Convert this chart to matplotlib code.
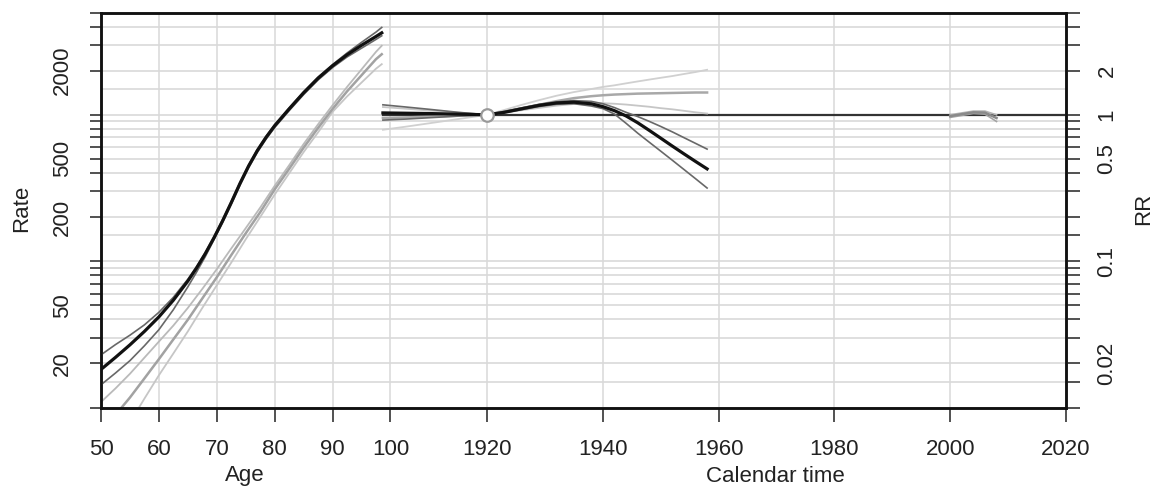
import numpy as np
import matplotlib
matplotlib.use("Agg")
import matplotlib.pyplot as plt
from matplotlib.ticker import NullFormatter

plt.rcParams['font.family'] = ['Liberation Sans', 'DejaVu Sans']

# ---------------- data ----------------
age = [50, 52.5, 55, 57.5, 60, 62.5, 65, 66.5, 68, 69.5, 71, 72.5, 74, 75.5,
       77, 78.5, 80, 82.5, 85, 87.5, 90, 92.5, 95, 97.5, 98.5]
rate_a = [18.2, 22.0, 26.8, 33.1, 41.6, 54.1, 73.1, 89.7, 112.2, 143.9,
          188.4, 251.2, 338.8, 446.7, 568.9, 699.8, 841.4, 1096, 1413, 1778,
          2163, 2570, 2985, 3428, 3631]
rate_a_hi = [22.9, 26.9, 31.2, 36.7, 44.7, 56.6, 75.2, 91.6, 114.3, 146.6,
             191.9, 255.9, 345.1, 455.0, 579.4, 712.9, 857.0, 1117, 1439,
             1811, 2203, 2642, 3126, 3673, 3954]
rate_a_lo = [14.3, 17.2, 20.9, 26.4, 34.0, 46.6, 66.7, 84.1, 107.2, 140.0,
             183.2, 244.3, 329.6, 434.5, 553.4, 680.8, 818.5, 1067, 1374,
             1730, 2104, 2483, 2851, 3273, 3467]

age_b = [50, 52.5, 55, 57.5, 60, 62.5, 65, 67.5, 70, 72.5, 75, 77.5, 80,
         82.5, 85, 87.5, 90, 92.5, 95, 97.5, 98.5]
rate_b = [6.8, 8.9, 11.7, 15.8, 21.4, 29.2, 39.8, 55.6, 77.6, 110, 155, 216,
          309, 427, 596, 813, 1096, 1445, 1862, 2399, 2594]
rate_b_hi = [10.9, 13.5, 17.0, 21.9, 28.2, 36.3, 47.9, 64.6, 88.1, 122, 168,
             232, 327, 452, 631, 861, 1161, 1549, 2042, 2692, 2965]
rate_b_lo = [3.9, 5.5, 7.9, 11.5, 16.6, 23.4, 33.1, 47.9, 68.4, 97.7, 141,
             200, 285, 398, 556, 759, 1047, 1334, 1660, 2065, 2218]

cohort = [1902, 1906, 1910, 1915, 1920, 1923, 1926, 1929, 1932, 1935, 1938,
          1940, 1942, 1944, 1946, 1948, 1950, 1952, 1954, 1956, 1958]
rr_a = [1.03, 1.025, 1.02, 1.01, 1.0, 1.04, 1.10, 1.16, 1.205, 1.22, 1.189,
        1.137, 1.067, 0.982, 0.883, 0.783, 0.692, 0.611, 0.541, 0.48, 0.427]
rr_a_hi = [1.17, 1.13, 1.09, 1.04, 1.0, 1.055, 1.115, 1.18, 1.225, 1.25,
           1.235, 1.19, 1.12, 1.04, 0.973, 0.902, 0.832, 0.764, 0.698,
           0.638, 0.583]
rr_a_lo = [0.92, 0.935, 0.955, 0.98, 1.0, 1.035, 1.085, 1.14, 1.18, 1.19,
           1.148, 1.102, 1.012, 0.875, 0.75, 0.65, 0.564, 0.489, 0.423,
           0.366, 0.316]
rr_b = [0.95, 0.96, 0.97, 0.985, 1.0, 1.05, 1.11, 1.17, 1.24, 1.30, 1.34,
        1.36, 1.375, 1.385, 1.395, 1.40, 1.405, 1.41, 1.415, 1.42, 1.42]
rr_b_hi = [0.79, 0.83, 0.875, 0.935, 1.0, 1.08, 1.17, 1.26, 1.35, 1.43,
           1.50, 1.55, 1.59, 1.64, 1.69, 1.74, 1.79, 1.84, 1.90, 1.96, 2.03]
rr_b_lo = [1.13, 1.10, 1.07, 1.035, 1.0, 1.035, 1.075, 1.115, 1.155, 1.185,
           1.20, 1.20, 1.19, 1.175, 1.155, 1.135, 1.11, 1.09, 1.065, 1.04,
           1.02]

period = [2000, 2002, 2004, 2006, 2008]
rr_p = [0.98, 1.01, 1.04, 1.035, 0.95]
rr_p_hi = [1.0, 1.03, 1.06, 1.06, 1.0]
rr_p_lo = [0.96, 0.99, 1.02, 1.01, 0.9]

ref_year = [1920]
ref_rr = [1.0]

age_ticks = [50, 60, 70, 80, 90, 100]
cal_ticks = [1920, 1940, 1960, 1980, 2000, 2020]
rate_labels = [20, 50, 200, 500, 2000]
rr_labels = [0.02, 0.1, 0.5, 1, 2]

# ---------------- layout ----------------
OFF = 1803.3  # calendar year -> frame x
W, H = 1162, 491
fig = plt.figure(figsize=(W / 100, H / 100), dpi=100)
L, R, T, B = 101, 1066, 12.5, 407.5
ax = fig.add_axes([L / W, 1 - B / H, (R - L) / W, (B - T) / H])
ax2 = ax.twinx()


def cx(years):
    return [y - OFF for y in years]


ax.set_xlim(50, 2020 - OFF)
ax.set_yscale('log')
ax.set_ylim(10, 5000)
ax2.set_yscale('log')
ax2.set_ylim(0.01, 5)

grid_col = '#d9d9d9'
rate_all = []
for d in [10, 100, 1000]:
    for k in range(1, 10):
        v = k * d
        if 10 <= v <= 5000:
            rate_all.append(v)
hvals = rate_all + [15, 150, 1500]
for v in hvals:
    ax.axhline(v, color=grid_col, lw=1.2, zorder=0)
for a in age_ticks[1:]:
    ax.axvline(a, color=grid_col, lw=1.1, zorder=0)
for c in cal_ticks[:-1]:
    ax.axvline(c - OFF, color=grid_col, lw=1.1, zorder=0)

# age curves
ax.plot(age_b, rate_b_lo, color='#c6c6c6', lw=1.3, zorder=2)
ax.plot(age_b, rate_b_hi, color='#bababa', lw=1.3, zorder=2)
ax.plot(age_b, rate_b, color='#a2a2a2', lw=1.8, zorder=2)
ax.plot(age, rate_a_lo, color='#686868', lw=1.2, zorder=3)
ax.plot(age, rate_a_hi, color='#686868', lw=1.2, zorder=3)
ax.plot(age, rate_a, color='#111111', lw=2.3, zorder=4)

# RR = 1 line
ax2.plot(cx([1902, 2020]), [1, 1], color='#333333', lw=1.6, zorder=2)

# cohort curves
ax2.plot(cx(cohort), rr_b_hi, color='#d0d0d0', lw=1.3, zorder=3)
ax2.plot(cx(cohort), rr_b_lo, color='#c6c6c6', lw=1.3, zorder=3)
ax2.plot(cx(cohort), rr_b, color='#a8a8a8', lw=1.8, zorder=3)
ax2.plot(cx(cohort), rr_a_hi, color='#686868', lw=1.2, zorder=4)
ax2.plot(cx(cohort), rr_a_lo, color='#686868', lw=1.2, zorder=4)
ax2.plot(cx(cohort), rr_a, color='#111111', lw=2.3, zorder=5)
ax2.plot(cx(ref_year), ref_rr, 'o', ms=9, mfc='white', mec='#999999',
         mew=1.6, zorder=6)

# period curves
ax2.plot(cx(period), rr_p_hi, color='#b4b4b4', lw=1.2, zorder=3)
ax2.plot(cx(period), rr_p_lo, color='#a4a4a4', lw=1.2, zorder=3)
ax2.plot(cx(period), rr_p, color='#8a8a8a', lw=1.8, zorder=3)

# ticks
xt = age_ticks + cx(cal_ticks)
xl = [str(a) for a in age_ticks] + [str(c) for c in cal_ticks]
ax.set_xticks(xt)
ax.set_xticklabels(xl)
ax.set_yticks(rate_labels)
ax.set_yticklabels([str(v) for v in rate_labels])
ax.set_yticks([v for v in rate_all if v not in rate_labels], minor=True)
ax.yaxis.set_minor_formatter(NullFormatter())

rr_minor = []
for d in [0.01, 0.1, 1]:
    for k in range(1, 10):
        v = round(k * d, 4)
        if 0.01 <= v <= 5 and v not in rr_labels:
            rr_minor.append(v)
rr_minor += [0.015, 0.15]
ax2.set_yticks(rr_labels)
ax2.set_yticklabels([('%g' % v) for v in rr_labels])
ax2.set_yticks(rr_minor, minor=True)
ax2.yaxis.set_minor_formatter(NullFormatter())

tc = '#333333'
fs = 16
ax.tick_params(axis='x', length=10, width=1.2, color=tc, pad=13,
               labelsize=fs, labelcolor='#222222')
ax.tick_params(axis='y', which='both', length=8, width=1.2, color=tc,
               pad=12, labelsize=fs, labelcolor='#222222')
ax2.tick_params(axis='y', which='both', length=10, width=1.2, color=tc,
                pad=12, labelsize=fs, labelcolor='#222222')
for lbl in ax.get_yticklabels() + ax2.get_yticklabels():
    lbl.set_rotation(90)
    lbl.set_va('center')

for a in (ax, ax2):
    for s in a.spines.values():
        s.set_linewidth(1.8)
        s.set_color('#111111')

fig.text(245 / W, 1 - 476 / H, 'Age', ha='center', va='center',
         fontsize=fs, color='#222222')
fig.text(775 / W, 1 - 476 / H, 'Calendar time', ha='center', va='center',
         fontsize=fs, color='#222222')
fig.text(22 / W, 1 - 208 / H, 'Rate', ha='center', va='center',
         rotation=90, fontsize=fs, color='#222222')
fig.text(1144 / W, 1 - 209 / H, 'RR', ha='center', va='center',
         rotation=90, fontsize=fs, color='#222222')

fig.savefig('out.png', dpi=100)
